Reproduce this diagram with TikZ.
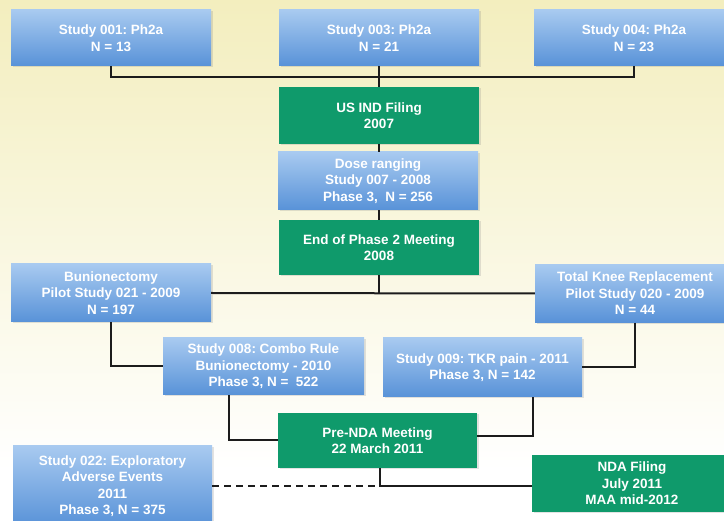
\documentclass[tikz,border=0pt]{standalone}
\usepackage{fontspec}
\setmainfont{Liberation Sans}
\frenchspacing
\usetikzlibrary{shadows}
\definecolor{bgtop}{HTML}{F3EEBE}
\definecolor{bluetop}{HTML}{A8CAF0}
\definecolor{bluebot}{HTML}{5892D8}
\definecolor{greenbox}{HTML}{0F9A6B}
\definecolor{linecol}{HTML}{1C1C1C}
\begin{document}
\begin{tikzpicture}[x=1pt,y=-1pt,
  boxbase/.style={rectangle, align=center, text=white, inner sep=1pt,
    font=\bfseries\fontsize{13.5}{16.5}\selectfont,
    drop shadow={shadow xshift=1.5pt, shadow yshift=-1.5pt, opacity=0.22}},
  bluebox/.style={boxbase, top color=bluetop, bottom color=bluebot, draw=none},
  greenbx/.style={boxbase, fill=greenbox, draw=none},
  conn/.style={draw=linecol, line width=2pt},
  dashconn/.style={conn, dash pattern=on 7pt off 5pt}]
\useasboundingbox (0,0) rectangle (724,521);
\fill[white] (0,0) rectangle (724,521);
\shade[top color=bgtop, bottom color=white] (0,0) rectangle (724,470);

\node[bluebox, minimum width=200pt, minimum height=56pt] (s001) at (111,38) {Study 001: Ph2a\\N = 13};
\node[bluebox, minimum width=200pt, minimum height=56pt] (s003) at (379,38) {Study 003: Ph2a\\N = 21};
\node[bluebox, minimum width=200pt, minimum height=56pt] (s004) at (634,38) {Study 004: Ph2a\\N = 23};
\node[greenbx, minimum width=200pt, minimum height=57pt] (ind) at (379,115.5) {US IND Filing\\2007};
\node[bluebox, minimum width=200pt, minimum height=58pt] (dose) at (378,181) {Dose ranging\\Study 007 - 2008\\Phase 3,\ \ N = 256};
\node[greenbx, minimum width=200pt, minimum height=55pt] (eop) at (379,247.5) {End of Phase 2 Meeting\\2008};
\node[bluebox, minimum width=200pt, minimum height=58pt] (bun) at (111,293) {Bunionectomy\\Pilot Study 021 - 2009\\N = 197};
\node[bluebox, minimum width=200pt, minimum height=58pt] (tkr) at (635,293.5) {Total Knee Replacement\\Pilot Study 020 - 2009\\N = 44};
\node[bluebox, minimum width=201pt, minimum height=57pt] (s008) at (263.5,366.5) {Study 008: Combo Rule\\Bunionectomy - 2010\\Phase 3, N =\ \ 522};
\node[bluebox, minimum width=199pt, minimum height=59pt] (s009) at (482.5,367.5) {Study 009: TKR pain - 2011\\Phase 3, N = 142};
\node[greenbx, minimum width=199pt, minimum height=55pt] (pre) at (377.5,440.5) {Pre-NDA Meeting\\22 March 2011};
\node[bluebox, minimum width=199pt, minimum height=80pt] (s022) at (112.5,486) {Study 022: Exploratory\\Adverse Events\\2011\\Phase 3, N = 375};
\node[greenbx, minimum width=200pt, minimum height=57pt] (nda) at (632,483.5) {NDA Filing\\July 2011\\MAA mid-2012};

\coordinate (tj) at (379,77);
\coordinate (mj) at (380,486);

\draw[conn] (s001.south) |- (tj) -| (s004.south);
\draw[conn] (s003.south) -- (ind.north);
\draw[conn] (ind.south) -- (ind.south |- dose.north);
\draw[conn] (eop.north |- dose.south) -- (eop.north);
\draw[conn] (bun.east) -- (tkr.west);
\draw[conn] (eop.south) -- (eop.south |- bun.east);
\draw[conn] (bun.south) |- (s008.west);
\draw[conn] (tkr.south) |- (s009.east);
\draw[conn] ([xshift=-34.5pt]s008.south) |- (pre.west);
\draw[conn] ([xshift=50.5pt]s009.south) |- ([yshift=4.5pt]pre.east);
\draw[conn] (pre.south -| mj) -- (mj) -- (mj -| nda.west);
\draw[dashconn] (mj -| s022.east) -- ([xshift=-4pt]mj);
\end{tikzpicture}
\end{document}
